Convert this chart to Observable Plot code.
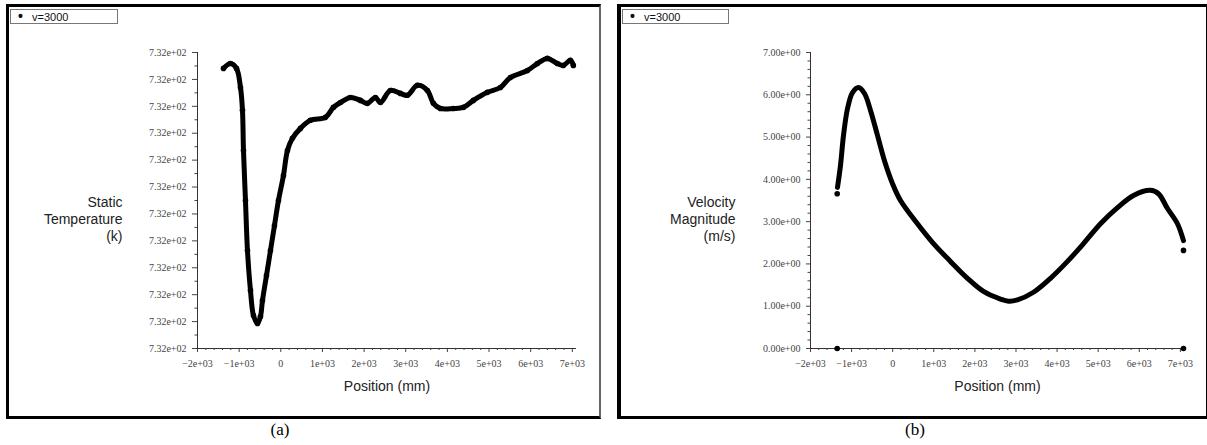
<!DOCTYPE html>
<html>
<head>
<meta charset="utf-8">
<script src="https://cdn.jsdelivr.net/npm/d3@7"></script>
<script src="https://cdn.jsdelivr.net/npm/@observablehq/plot@0.6"></script>
<style>
  body { margin:0; width:1207px; height:445px; position:relative; background:#fff; overflow:hidden; }
  .panel { position:absolute; box-sizing:border-box; border-style:solid; border-color:#000; background:#fff; }
  .plot { position:absolute; }
  .legend { position:absolute; box-sizing:border-box; border:1px solid #777; background:#fff;
            font:11px "Liberation Sans", Arial, sans-serif; color:#111; line-height:13px; padding-left:7px; white-space:pre; }
  .legend b { font-size:14px; }
  .cap { position:absolute; font:17px "Liberation Serif", "Times New Roman", serif; color:#000; transform:translateX(-50%); }
</style>
</head>
<body>
<div class="panel" style="left:6px; top:4px; width:595px; height:415px; border-width:3px 2px 3px 3px; border-right-color:#666;"></div>
<div class="panel" style="left:617px; top:4px; width:592px; height:415px; border-width:3px 3px 3px 4px;"></div>
<div id="pa" class="plot" style="left:10px; top:8px;"></div>
<div id="pb" class="plot" style="left:622px; top:8px;"></div>
<div class="legend" style="left:10px; top:9px; width:108px; height:15px;"><b>•</b>   v=3000</div>
<div class="legend" style="left:622px; top:9px; width:107px; height:15px;"><b>•</b>   v=3000</div>
<div class="cap" style="left:280px; top:420px;">(a)</div>
<div class="cap" style="left:915px; top:420px;">(b)</div>
<script>
// ---------- data ----------
const seriesName = "v=3000";
const xDomain = [-2000, 7100];
const xTicks = [-2000, -1000, 0, 1000, 2000, 3000, 4000, 5000, 6000, 7000];
const xTitle = "Position (mm)";

// (a) Static temperature (k)
const tempTitle = "Static\nTemperature\n(k)";
const tempDomain = [732.000, 732.011];
const tempTicks = [732.000, 732.001, 732.002, 732.003, 732.004, 732.005, 732.006, 732.007, 732.008, 732.009, 732.010, 732.011];
const tempPos = [-1376, -1208, -1064, -968, -920, -896, -848, -800, -728, -656, -560, -488, -440, -344, -248, -152, -56, 64, 160, 280, 472, 712, 1072, 1264, 1432, 1672, 1912, 2080, 2272, 2392, 2632, 2872, 3040, 3280, 3520, 3664, 3832, 4144, 4384, 4624, 4960, 5272, 5512, 5920, 6160, 6400, 6640, 6784, 6952, 7024];
const tempVal = [732.01041, 732.01059, 732.01041, 732.00970, 732.00885, 732.00736, 732.00550, 732.00364, 732.00216, 732.00123, 732.00093, 732.00119, 732.00178, 732.00271, 732.00364, 732.00457, 732.00550, 732.00643, 732.00736, 732.00781, 732.00818, 732.00848, 732.00859, 732.00896, 732.00914, 732.00933, 732.00922, 732.00911, 732.00933, 732.00914, 732.00959, 732.00948, 732.00941, 732.00978, 732.00959, 732.00911, 732.00892, 732.00892, 732.00896, 732.00922, 732.00952, 732.00970, 732.01007, 732.01033, 732.01059, 732.01078, 732.01059, 732.01052, 732.01071, 732.01052];

// (b) Velocity magnitude (m/s)
const velTitle = "Velocity\nMagnitude\n(m/s)";
const velDomain = [0, 7];
const velTicks = [0, 1, 2, 3, 4, 5, 6, 7];
const velPos = [-1343, -1270, -1197, -1100, -978, -832, -686, -540, -370, -200, -5, 190, 603, 993, 1406, 1820, 2209, 2623, 2818, 3036, 3426, 3839, 4253, 4642, 5056, 5470, 5859, 6273, 6467, 6686, 6929, 7075];
const velVal = [3.81, 4.33, 5.04, 5.67, 6.05, 6.17, 6.03, 5.63, 5.04, 4.44, 3.90, 3.50, 2.95, 2.48, 2.06, 1.66, 1.35, 1.17, 1.12, 1.15, 1.33, 1.66, 2.06, 2.48, 2.95, 3.33, 3.62, 3.74, 3.66, 3.31, 2.95, 2.55];
const velWallPos = [-1350, -1350, 7075, 7075];
const velWallVal = [0, 3.66, 2.32, 0];

// ---------- helpers ----------
const expFmt = (p) => (d) => {
  if (p === 0 && d === 0) return "0";
  return d3.format(`.${p}e`)(d).replace(/e([+-])(\d)$/, "e$10$2");
};
const minorBetween = (ticks, n) => {
  const out = [];
  for (let i = 0; i < ticks.length - 1; i++) {
    const step = (ticks[i + 1] - ticks[i]) / (n + 1);
    for (let k = 1; k <= n; k++) out.push(ticks[i] + k * step);
  }
  return out;
};
const xMinor = minorBetween(xTicks, 4);
const tickFont = "'Liberation Serif', 'Times New Roman', serif";
const titleFont = "'Liberation Sans', Arial, sans-serif";

const tempData = tempPos.map((x, i) => ({x, y: tempVal[i]}));
const velData = velPos.map((x, i) => ({x, y: velVal[i]}));
const velWall = velWallPos.map((x, i) => ({x, y: velWallVal[i]}));

function panel({width, marginLeft, marginRight, yDomain, yTicks, yMinorN, yFmt, yTickSize, title, marks}) {
  return Plot.plot({
    width, height: 406,
    marginLeft, marginRight, marginTop: 44, marginBottom: 66,
    style: {fontFamily: tickFont, fontSize: "10px", color: "#444", background: "transparent", overflow: "visible"},
    x: {domain: xDomain},
    y: {domain: yDomain},
    marks: [
      Plot.axisX({ticks: xTicks, tickFormat: expFmt(0), tickSize: 4, tickPadding: 7, label: null, fontFamily: tickFont, fontSize: 10}),
      Plot.axisX({ticks: xMinor, tickFormat: () => "", tickSize: 2, label: null}),
      Plot.axisY({ticks: yTicks, tickFormat: yFmt, tickSize: yTickSize, tickPadding: 6, label: null, fontFamily: tickFont, fontSize: 10}),
      Plot.axisY({ticks: minorBetween(yTicks, yMinorN), tickFormat: () => "", tickSize: 2.5, label: null}),
      Plot.ruleX([xDomain[0]], {stroke: "#333"}),
      Plot.ruleY([yDomain[0]], {stroke: "#333"}),
      ...marks,
      Plot.text([title], {frameAnchor: "left", dx: -75, dy: 18, textAnchor: "end", lineHeight: 1.2,
        fontFamily: titleFont, fontSize: 14, fill: "#222"}),
      Plot.text([xTitle], {frameAnchor: "bottom", dy: 42, fontFamily: titleFont, fontSize: 14, fill: "#222"})
    ]
  });
}

const plotA = panel({
  width: 586, marginLeft: 187, marginRight: 20,
  yDomain: tempDomain, yTicks: tempTicks, yMinorN: 1, yFmt: expFmt(2), yTickSize: 5, title: tempTitle,
  marks: [
    Plot.line(tempData, {x: "x", y: "y", stroke: "#000", strokeWidth: 5, curve: "catmull-rom"}),
    Plot.dot(tempData, {x: "x", y: "y", r: 2.8, fill: "#000"})
  ]
});
document.getElementById("pa").append(plotA);

const plotB = panel({
  width: 580, marginLeft: 188, marginRight: 18,
  yDomain: velDomain, yTicks: velTicks, yMinorN: 4, yFmt: expFmt(2), yTickSize: 4, title: velTitle,
  marks: [
    Plot.line(velData, {x: "x", y: "y", stroke: "#000", strokeWidth: 5, curve: "catmull-rom"}),
    Plot.dot(velWall, {x: "x", y: "y", r: 2.8, fill: "#000"})
  ]
});
document.getElementById("pb").append(plotB);
</script>
</body>
</html>
